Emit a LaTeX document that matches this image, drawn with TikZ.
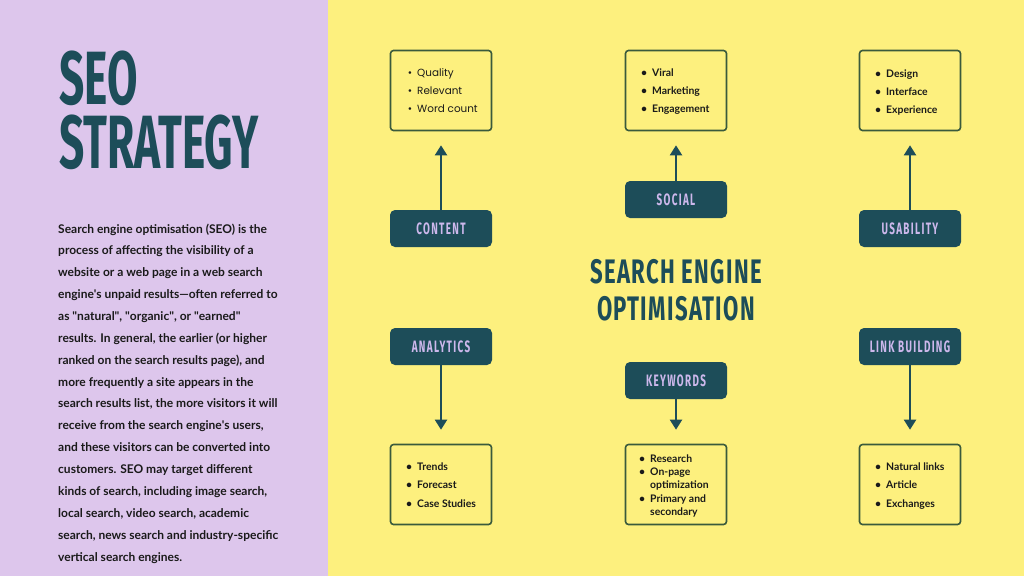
\documentclass[tikz,border=0pt]{standalone}
\usepackage{fontspec}
\setmainfont{Lato}
\newfontfamily\cond[FakeStretch=0.585]{Fira Sans}
\newfontfamily\condm[FakeStretch=0.65,LetterSpace=4]{Fira Sans}
\newfontfamily\condsp[FakeStretch=0.6,LetterSpace=8]{Fira Sans}
\newfontfamily\pop{Poppins}
\usetikzlibrary{arrows.meta}
\definecolor{yel}{HTML}{FDF07E}
\definecolor{pur}{HTML}{DDC6EC}
\definecolor{teal}{HTML}{1D4D59}
\definecolor{lav}{HTML}{CDB8EC}
\definecolor{boxgreen}{HTML}{3A5A3C}
\definecolor{ink}{HTML}{1A1A1A}
\newcommand{\dq}{\textquotedbl}
\newcommand{\sq}{\textquotesingle}
\begin{document}
\begin{tikzpicture}[x=1pt,y=-1pt,
  lbl/.style={fill=teal, rounded corners=5pt, minimum width=102pt, minimum height=37pt, inner sep=0pt,
    font=\condsp\bfseries\fontsize{16.5}{16.5}\selectfont, text=lav},
  lst/.style={draw=boxgreen, line width=1.6pt, fill=yel, rounded corners=3pt, minimum width=101pt, minimum height=80pt, inner sep=0pt},
  arr/.style={draw=teal, line width=2pt, shorten >=14pt, -{Triangle[length=10pt,width=12pt]}},
  item/.style={anchor=base west, inner sep=0pt, font=\bfseries\fontsize{10.4}{12}\selectfont, text=ink},
  pitem/.style={anchor=base west, inner sep=0pt, font=\pop\fontsize{10.4}{12}\selectfont, text=ink},
  para/.style={anchor=base west, inner sep=0pt, font=\bfseries\fontsize{12}{13}\selectfont, text=ink},
  big/.style={anchor=north west, inner sep=0pt, align=left, font=\cond\bfseries\fontsize{75.5}{64}\selectfont, text=teal},
  mid/.style={anchor=base, inner sep=0pt, font=\condm\bfseries\fontsize{34}{34}\selectfont, text=teal}
]
\useasboundingbox (0,0) rectangle (1024,576);
\fill[yel] (0,0) rectangle (1024,576);
\fill[pur] (0,0) rectangle (328,576);

% title
\node[big] (title) at (59,51) {SEO\\STRATEGY};

% paragraph
\foreach \i/\s in {0/{Search engine optimisation (SEO) is the},
  1/{process of affecting the visibility of a},
  2/{website or a web page in a web search},
  3/{engine\sq s unpaid results---often referred to},
  4/{as \dq natural\dq, \dq organic\dq, or \dq earned\dq},
  5/{results. In general, the earlier (or higher},
  6/{ranked on the search results page), and},
  7/{more frequently a site appears in the},
  8/{search results list, the more visitors it will},
  9/{receive from the search engine\sq s users,},
  10/{and these visitors can be converted into},
  11/{customers. SEO may target different},
  12/{kinds of search, including image search,},
  13/{local search, video search, academic},
  14/{search, news search and industry-specific},
  15/{vertical search engines.}}
  \node[para] (p\i) at (58,233+21.87*\i) {\s};

% central title
\node[mid] (c1) at (676,283) {SEARCH ENGINE};
\node[mid] (c2) at (676,320) {OPTIMISATION};

% list boxes
\node[lst] (contentL) at (441,90.5) {};
\node[lst] (socialL) at (676,90.5) {};
\node[lst] (usabL) at (910,90.5) {};
\node[lst] (analL) at (441,484.5) {};
\node[lst] (keyL) at (676,484.5) {};
\node[lst] (linkL) at (910,484.5) {};

% label boxes
\node[lbl] (content) at (441,228.5) {CONTENT};
\node[lbl] (social) at (676,199.5) {SOCIAL};
\node[lbl] (usab) at (910,228.5) {USABILITY};
\node[lbl] (anal) at (441,346.5) {ANALYTICS};
\node[lbl] (key) at (676,380.5) {KEYWORDS};
\node[lbl] (link) at (910,346.5) {LINK BUILDING};

% arrows
\draw[arr] (content) -- (contentL);
\draw[arr] (social) -- (socialL);
\draw[arr] (usab) -- (usabL);
\draw[arr] (anal) -- (analL);
\draw[arr] (key) -- (keyL);
\draw[arr] (link) -- (linkL);

% items
\newcommand{\bul}{\llap{\textbullet\hspace{5pt}}}
\node[pitem] (i1) at (417,76) {\bul Quality};
\node[pitem] (i2) at (417,94) {\bul Relevant};
\node[pitem] (i3) at (417,112) {\bul Word count};

\node[item] (i4) at (652,76) {\bul Viral};
\node[item] (i5) at (652,94) {\bul Marketing};
\node[item] (i6) at (652,112) {\bul Engagement};

\node[item] (i7) at (886,77) {\bul Design};
\node[item] (i8) at (886,95) {\bul Interface};
\node[item] (i9) at (886,113) {\bul Experience};

\node[item] (i10) at (417,470) {\bul Trends};
\node[item] (i11) at (417,488) {\bul Forecast};
\node[item] (i12) at (417,507) {\bul Case Studies};

\node[item] (i13) at (650,462) {\bul Research};
\node[item] (i14) at (650,475) {\bul On-page};
\node[item] (i15) at (650,488.5) {optimization};
\node[item] (i16) at (650,502) {\bul Primary and};
\node[item] (i17) at (650,515) {secondary};

\node[item] (i18) at (886,470) {\bul Natural links};
\node[item] (i19) at (886,488) {\bul Article};
\node[item] (i20) at (886,507) {\bul Exchanges};
\end{tikzpicture}
\end{document}
